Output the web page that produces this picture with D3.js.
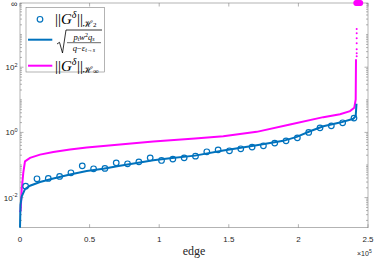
<!DOCTYPE html>
<html>
<head>
<meta charset="utf-8">
<script src="https://cdn.jsdelivr.net/npm/d3@7"></script>
<style>
  body { margin: 0; background: #fff; }
  svg { display: block; }
</style>
</head>
<body>
<script>
// tick positions / labels
const xTicks = [0, 50000, 100000, 150000, 200000, 250000]
const xTickLabels = ['0', '0.5', '1', '1.5', '2', '2.5']
const yLabelTicks = [1e-2, 1e0, 1e2]
const yLabelExp = ['-2', '0', '2']

// sqrt(p_t w^2 q_s / (q - eps)) bound
const boundEdge = [0, 360, 1220, 3590, 7180, 14370, 23920, 35920, 47920, 59840, 71840, 83840,
  95760, 107760, 125720, 146050, 170040, 189150, 198780, 208330, 217890, 229890, 239440, 241160, 241740]
const boundVal = [0.0012, 0.006, 0.0108, 0.0183, 0.0231, 0.0301, 0.0388, 0.0515, 0.0656, 0.0773, 0.0955, 0.1156,
  0.139, 0.160, 0.194, 0.277, 0.403, 0.551, 0.731, 1.086, 1.549, 2.00, 2.62, 3.15, 7.59]

// H-infinity norm curve
const hinfEdge = [0, 500, 1220, 2370, 3590, 7180, 14370, 23920, 35920, 47920, 71840, 95760,
  125720, 146050, 170040, 193970, 217890, 229890, 237070, 240160, 241160, 241380]
const hinfVal = [0.00355, 0.00422, 0.0174, 0.058, 0.129, 0.165, 0.208, 0.252, 0.297, 0.342, 0.424, 0.524,
  0.647, 0.762, 1.04, 1.75, 2.94, 3.63, 4.49, 5.71, 10.3, 175]
// loose points above the curve and the infinite ones
const hinfDotEdge = [241880, 241880, 241880, 241880, 241880, 241880, 241880]
const hinfDotVal = [1480, 1110, 776, 546, 355, 269, 217]
const hinfInfEdge = [241600, 242300, 243000, 243700, 244400]

// H2 norm samples (circles)
const h2Edge = d3.range(30).map(i => Math.round((i + 0.5) * 8133))
const h2Val = [0.0225, 0.0378, 0.0388, 0.0447, 0.0577, 0.0944, 0.0764, 0.0787, 0.1167, 0.109,
  0.125, 0.166, 0.138, 0.152, 0.166, 0.187, 0.254, 0.292, 0.273, 0.314,
  0.354, 0.388, 0.470, 0.552, 0.682, 1.0, 1.38, 1.59, 1.97, 2.75]

const W = 374, H = 260
const box = {left: 20, right: 368, top: 3, bottom: 227.7}
const blue = '#0072BD', magenta = '#FF00FF', axisCol = '#808080', txtCol = '#262626'
const yMin = Math.pow(10, -2.923), yMax = Math.pow(10, 3.97)

const svg = d3.select('body').append('svg')
  .attr('width', W).attr('height', H)

const x = d3.scaleLinear().domain([0, 250000]).range([box.left, box.right])
const y = d3.scaleLog().domain([yMin, yMax]).range([box.bottom, box.top])

// minor log ticks
const minor = []
for (let e = -3; e <= 3; e++) {
  for (let k = 1; k <= 9; k++) {
    const v = k * Math.pow(10, e)
    if (v > yMin && v < yMax && !yLabelTicks.includes(v)) minor.push(v)
  }
}

const axes = svg.append('g').attr('stroke', axisCol).attr('stroke-width', 0.6)
// frame
axes.append('rect')
  .attr('x', box.left).attr('y', box.top)
  .attr('width', box.right - box.left).attr('height', box.bottom - box.top)
  .attr('fill', 'none')

// x ticks (inward, bottom and top)
axes.selectAll('line.xt').data(xTicks).enter().append('line')
  .attr('x1', d => x(d)).attr('x2', d => x(d))
  .attr('y1', box.bottom).attr('y2', box.bottom - 3.5)
axes.selectAll('line.xtt').data(xTicks).enter().append('line')
  .attr('x1', d => x(d)).attr('x2', d => x(d))
  .attr('y1', box.top).attr('y2', box.top + 3.5)

// y ticks both sides
axes.selectAll('line.ym').data(yLabelTicks).enter().append('line')
  .attr('x1', box.left).attr('x2', box.left + 3.5)
  .attr('y1', d => y(d)).attr('y2', d => y(d))
axes.selectAll('line.ymr').data(yLabelTicks).enter().append('line')
  .attr('x1', box.right).attr('x2', box.right - 3.5)
  .attr('y1', d => y(d)).attr('y2', d => y(d))
axes.selectAll('line.yn').data(minor).enter().append('line')
  .attr('x1', box.left).attr('x2', box.left + 2)
  .attr('y1', d => y(d)).attr('y2', d => y(d))
axes.selectAll('line.ynr').data(minor).enter().append('line')
  .attr('x1', box.right).attr('x2', box.right - 2)
  .attr('y1', d => y(d)).attr('y2', d => y(d))

// tick labels
const lab = svg.append('g')
  .attr('font-family', 'Liberation Sans, Arial, sans-serif')
  .attr('fill', txtCol)

lab.selectAll('text.xl').data(xTicks).enter().append('text')
  .attr('x', d => x(d)).attr('y', 241.5)
  .attr('text-anchor', 'middle').attr('font-size', 8)
  .text((d, i) => xTickLabels[i])

yLabelTicks.forEach((v, i) => {
  const t = lab.append('text')
    .attr('x', 17.5).attr('y', y(v) + 3)
    .attr('text-anchor', 'end').attr('font-size', 8)
  t.append('tspan').text('10')
  t.append('tspan').attr('font-size', 5.5).attr('dy', -3.5).text(yLabelExp[i])
})
lab.append('text')
  .attr('x', 17.5).attr('y', y(yMax) + 3.5)
  .attr('text-anchor', 'end').attr('font-size', 9)
  .text('∞')

const mult = lab.append('text').attr('x', 357).attr('y', 256).attr('font-size', 7)
mult.append('tspan').text('×10')
mult.append('tspan').attr('font-size', 5).attr('dy', -3.5).text('5')

svg.append('text')
  .attr('x', 194).attr('y', 255)
  .attr('text-anchor', 'middle')
  .attr('font-family', 'Liberation Serif, DejaVu Serif, serif')
  .attr('font-size', 12).attr('fill', txtCol)
  .text('edge')

// curves
const line = d3.line().x(d => x(d[0])).y(d => y(d[1]))

svg.append('path')
  .datum(hinfEdge.map((e, i) => [e, hinfVal[i]]))
  .attr('d', line)
  .attr('fill', 'none').attr('stroke', magenta).attr('stroke-width', 2)

svg.selectAll('circle.hd').data(hinfDotEdge).enter().append('circle')
  .attr('cx', d => x(d)).attr('cy', (d, i) => y(hinfDotVal[i]))
  .attr('r', 1).attr('fill', magenta)

svg.selectAll('circle.hi').data(hinfInfEdge).enter().append('circle')
  .attr('cx', d => x(d)).attr('cy', y(yMax))
  .attr('r', 3).attr('fill', magenta)

svg.append('path')
  .datum(boundEdge.map((e, i) => [e, boundVal[i]]))
  .attr('d', line)
  .attr('fill', 'none').attr('stroke', blue).attr('stroke-width', 2)

svg.selectAll('circle.h2').data(h2Edge).enter().append('circle')
  .attr('cx', d => x(d)).attr('cy', (d, i) => y(h2Val[i]))
  .attr('r', 2.8)
  .attr('fill', 'none').attr('stroke', blue).attr('stroke-width', 1.2)

// legend
const lg = svg.append('g')
lg.append('rect')
  .attr('x', 26).attr('y', 7.3).attr('width', 78.3).attr('height', 64.7)
  .attr('fill', '#fff').attr('stroke', axisCol).attr('stroke-width', 0.6)

lg.append('circle').attr('cx', 40).attr('cy', 19.3).attr('r', 2.8)
  .attr('fill', 'none').attr('stroke', blue).attr('stroke-width', 1.2)
lg.append('line').attr('x1', 28).attr('x2', 52.3).attr('y1', 39.7).attr('y2', 39.7)
  .attr('stroke', blue).attr('stroke-width', 2)
lg.append('line').attr('x1', 28).attr('x2', 52.3).attr('y1', 65.7).attr('y2', 65.7)
  .attr('stroke', magenta).attr('stroke-width', 2)

const serif = 'Liberation Serif, DejaVu Serif, serif'
function normText(yBase, sub) {
  const t = lg.append('text').attr('x', 55).attr('y', yBase)
    .attr('font-family', serif).attr('font-size', 15).attr('fill', '#000')
  t.append('tspan').text('||')
  t.append('tspan').attr('font-style', 'italic').text('G')
  t.append('tspan').attr('font-style', 'italic').attr('font-size', 10).attr('dy', -6).text('δ')
  t.append('tspan').attr('dy', 6).attr('dx', 0.5).text('||')
  t.append('tspan').attr('font-family', 'DejaVu Serif, serif')
    .attr('font-size', 9).attr('dy', 2.5).text('ℋ')
  t.append('tspan').attr('font-size', sub === '∞' ? 8 : 7).attr('dy', 0.5).text(sub)
}
normText(24, '2')
normText(70.5, '∞')

// radical with fraction
lg.append('path')
  .attr('d', 'M57,44 L59.5,42.3 L62.5,53 L66,30 L102,30')
  .attr('fill', 'none').attr('stroke', '#000').attr('stroke-width', 0.8)
lg.append('line').attr('x1', 67).attr('x2', 101).attr('y1', 42.7).attr('y2', 42.7)
  .attr('stroke', '#000').attr('stroke-width', 0.6)
const num = lg.append('text').attr('x', 84).attr('y', 39.5).attr('text-anchor', 'middle')
  .attr('font-family', serif).attr('font-size', 8.5).attr('font-style', 'italic')
num.append('tspan').text('p')
num.append('tspan').attr('font-size', 6).attr('dy', 1.5).text('t')
num.append('tspan').attr('dy', -1.5).text('w')
num.append('tspan').attr('font-size', 6).attr('font-style', 'normal').attr('dy', -3).text('2')
num.append('tspan').attr('dy', 3).text('q')
num.append('tspan').attr('font-size', 6).attr('dy', 1.5).text('s')
const den = lg.append('text').attr('x', 84).attr('y', 50.5).attr('text-anchor', 'middle')
  .attr('font-family', serif).attr('font-size', 8.5).attr('font-style', 'italic')
den.append('tspan').text('q')
den.append('tspan').attr('font-style', 'normal').text('−')
den.append('tspan').text('ε')
den.append('tspan').attr('font-size', 6).attr('dy', 1.5).text('t→s')
</script>
</body>
</html>
